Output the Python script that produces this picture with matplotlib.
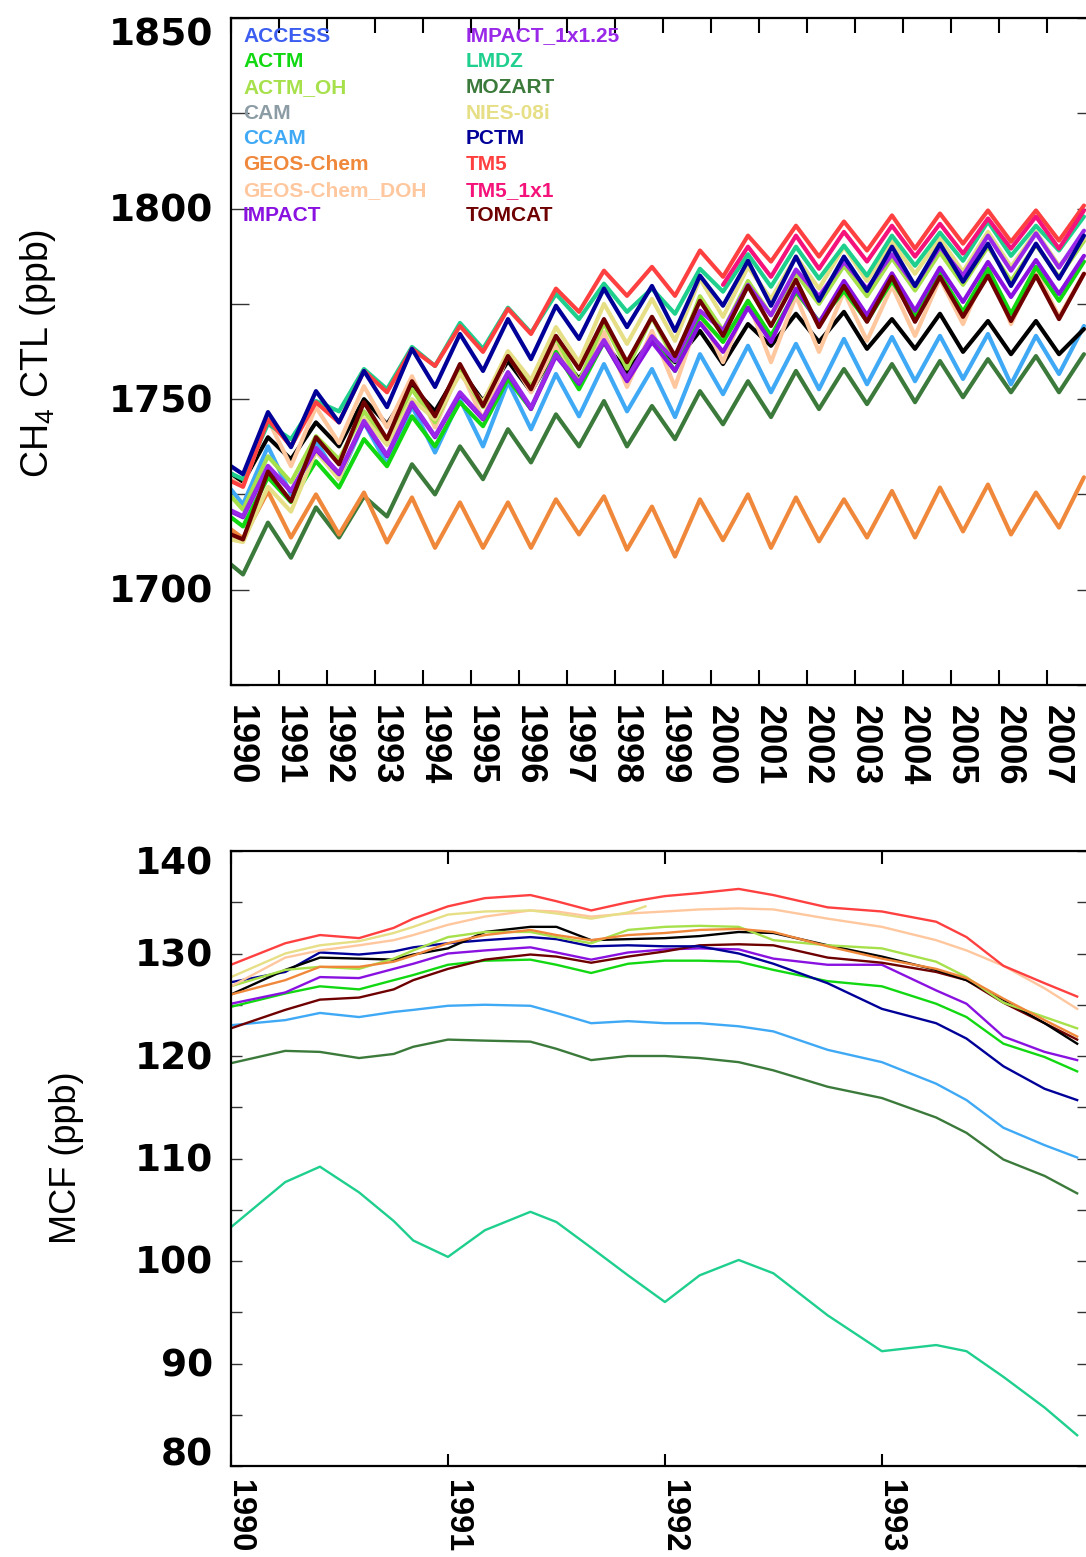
import numpy as np
import matplotlib
matplotlib.use("Agg")
import matplotlib.pyplot as plt
from matplotlib.transforms import offset_copy

plt.rcParams['mathtext.fontset'] = 'custom'
plt.rcParams['mathtext.rm'] = 'Liberation Sans'
plt.rcParams['mathtext.it'] = 'Liberation Sans:italic'

# ---------------- legend ----------------
legend_col1 = ['ACCESS', 'ACTM', 'ACTM_OH', 'CAM', 'CCAM', 'GEOS-Chem', 'GEOS-Chem_DOH', 'IMPACT']
legend_col2 = ['IMPACT_1x1.25', 'LMDZ', 'MOZART', 'NIES-08i', 'PCTM', 'TM5', 'TM5_1x1', 'TOMCAT']
model_colors = {
    'ACCESS': '#3c5ef0', 'ACTM': '#12d812', 'ACTM_OH': '#a6e04a', 'CAM': '#8c9ca4',
    'CCAM': '#3fa9f5', 'GEOS-Chem': '#f0883c', 'GEOS-Chem_DOH': '#ffc79e', 'IMPACT': '#8a12e0',
    'IMPACT_1x1.25': '#9a28e8', 'LMDZ': '#1ecf8e', 'MOZART': '#3b7a3b', 'NIES-08i': '#e6df86',
    'PCTM': '#000099', 'TM5': '#ff4040', 'TM5_1x1': '#f5127a', 'TOMCAT': '#6e0000',
    'black': '#000000',
}

# ---------------- CH4 CTL (ppb): start value, seasonal troughs (lo) and peaks (hi) per year ----------------
ch4_years = list(range(1990, 2008))
ch4_xticks = list(range(1990, 2009))

mozart_ch4_start = 1706.6
mozart_ch4_lo = [1704.0, 1708.4, 1713.7, 1719.2, 1725.0, 1729.0, 1733.4, 1737.6, 1737.6, 1739.5, 1743.4, 1745.3, 1747.4, 1748.7, 1749.2, 1750.5, 1751.8, 1751.8]
mozart_ch4_hi = [1717.6, 1721.6, 1724.5, 1732.9, 1737.6, 1742.1, 1746.0, 1749.5, 1748.2, 1752.1, 1754.7, 1757.4, 1757.9, 1759.2, 1760.0, 1760.5, 1761.3, 1761.8]

geos_ch4_start = 1715.8
geos_ch4_lo = [1713.5, 1713.7, 1714.5, 1712.4, 1711.0, 1711.0, 1711.0, 1714.5, 1710.5, 1708.7, 1713.0, 1711.0, 1712.7, 1713.7, 1713.7, 1715.3, 1714.5, 1716.3]
geos_ch4_hi = [1725.8, 1725.0, 1725.5, 1724.2, 1722.9, 1722.9, 1723.7, 1724.5, 1721.8, 1723.7, 1725.0, 1724.2, 1723.7, 1725.9, 1726.8, 1727.6, 1725.5, 1729.5]

ccam_ch4_start = 1726.3
ccam_ch4_lo = [1722.4, 1725.0, 1729.0, 1732.9, 1736.0, 1737.6, 1742.1, 1745.5, 1746.8, 1745.3, 1751.3, 1751.8, 1752.6, 1753.9, 1754.7, 1755.3, 1753.9, 1756.6]
ccam_ch4_hi = [1737.6, 1739.0, 1743.9, 1748.2, 1750.0, 1754.5, 1756.6, 1759.2, 1757.9, 1761.8, 1764.0, 1764.5, 1765.8, 1766.3, 1766.6, 1767.1, 1766.6, 1769.2]

black_ch4_start = 1730.5
black_ch4_lo = [1728.2, 1734.2, 1737.6, 1743.4, 1746.8, 1749.5, 1752.0, 1755.3, 1757.1, 1759.7, 1759.2, 1764.0, 1765.0, 1763.2, 1763.2, 1762.4, 1761.8, 1761.8]
black_ch4_hi = [1740.0, 1743.9, 1750.0, 1753.4, 1757.9, 1760.0, 1763.0, 1765.0, 1765.8, 1767.9, 1769.7, 1772.4, 1772.9, 1771.0, 1772.4, 1770.5, 1770.5, 1768.4]

doh_ch4_start = 1729.0
doh_ch4_lo = [1727.1, 1732.4, 1738.5, 1742.6, 1742.6, 1744.7, 1751.8, 1753.9, 1753.2, 1753.2, 1759.7, 1759.7, 1762.4, 1765.3, 1766.6, 1769.7, 1769.7, 1771.6]
doh_ch4_hi = [1744.7, 1747.9, 1753.4, 1756.0, 1757.9, 1761.8, 1764.0, 1767.6, 1767.9, 1772.4, 1775.8, 1777.1, 1778.2, 1779.7, 1781.6, 1785.0, 1783.7, 1782.9]

tomcat_ch4_start = 1714.5
tomcat_ch4_lo = [1713.2, 1723.2, 1732.9, 1739.5, 1745.5, 1748.2, 1752.6, 1757.9, 1759.7, 1761.3, 1766.6, 1769.2, 1768.9, 1770.3, 1770.3, 1771.6, 1770.5, 1771.0]
tomcat_ch4_hi = [1731.0, 1740.0, 1749.2, 1754.7, 1759.2, 1761.3, 1766.6, 1771.0, 1771.6, 1775.8, 1779.7, 1781.3, 1779.7, 1782.1, 1782.1, 1782.4, 1782.4, 1782.9]

actm_ch4_start = 1719.0
actm_ch4_lo = [1716.6, 1723.0, 1726.8, 1732.4, 1737.6, 1742.9, 1747.4, 1752.6, 1755.0, 1757.4, 1765.0, 1766.6, 1770.3, 1770.5, 1771.8, 1772.9, 1772.4, 1775.8]
actm_ch4_hi = [1729.5, 1733.7, 1739.5, 1745.5, 1749.2, 1755.3, 1762.4, 1765.0, 1766.0, 1771.8, 1775.8, 1778.2, 1778.4, 1781.0, 1782.9, 1784.2, 1784.7, 1786.1]

actmoh_ch4_start = 1724.5
actmoh_ch4_lo = [1721.0, 1728.2, 1734.2, 1739.0, 1743.9, 1747.9, 1754.0, 1754.5, 1758.0, 1760.0, 1768.0, 1772.0, 1775.0, 1777.0, 1778.5, 1780.0, 1781.0, 1782.0]
actmoh_ch4_hi = [1735.0, 1740.3, 1746.8, 1752.6, 1757.4, 1761.8, 1766.0, 1770.0, 1771.5, 1777.0, 1781.0, 1783.0, 1785.0, 1787.0, 1788.5, 1790.0, 1790.5, 1791.5]

nies_ch4_start = 1713.2
nies_ch4_lo = [1712.5, 1720.5, 1729.0, 1738.0, 1744.7, 1749.2, 1755.0, 1759.7, 1764.5, 1765.3, 1771.6, 1776.3, 1779.0, 1781.0, 1782.9, 1783.4, 1784.7, 1785.0]
nies_ch4_hi = [1727.0, 1736.3, 1745.0, 1750.0, 1756.6, 1762.6, 1768.9, 1775.0, 1776.3, 1781.6, 1784.7, 1787.4, 1790.0, 1791.3, 1792.1, 1793.9, 1793.9, 1792.1]

impact_ch4_start = 1720.5
impact_ch4_lo = [1719.0, 1725.8, 1730.3, 1735.0, 1740.0, 1744.7, 1747.4, 1754.0, 1754.7, 1757.4, 1762.4, 1765.0, 1770.0, 1772.0, 1773.2, 1775.5, 1776.8, 1777.6]
impact_ch4_hi = [1732.1, 1736.8, 1743.9, 1748.7, 1751.3, 1756.6, 1761.3, 1765.0, 1765.0, 1770.0, 1774.0, 1779.0, 1781.0, 1783.0, 1784.5, 1786.0, 1786.5, 1787.6]

impact125_ch4_start = 1720.8
impact125_ch4_lo = [1719.3, 1726.0, 1730.6, 1735.3, 1740.3, 1745.0, 1747.8, 1754.4, 1755.5, 1760.0, 1768.0, 1772.0, 1777.0, 1779.0, 1779.7, 1782.4, 1783.7, 1784.5]
impact125_ch4_hi = [1732.5, 1737.2, 1744.3, 1749.1, 1751.8, 1757.1, 1761.8, 1765.5, 1766.5, 1773.2, 1780.0, 1784.0, 1786.0, 1788.0, 1790.0, 1792.9, 1793.5, 1794.2]

pctm_ch4_start = 1732.4
pctm_ch4_lo = [1730.3, 1737.4, 1743.9, 1747.9, 1753.2, 1757.4, 1760.5, 1765.8, 1768.9, 1767.9, 1774.5, 1774.5, 1775.8, 1778.4, 1779.7, 1780.8, 1779.7, 1781.6]
pctm_ch4_hi = [1746.6, 1752.1, 1757.4, 1763.2, 1767.1, 1771.0, 1774.5, 1779.0, 1779.7, 1782.4, 1786.3, 1787.4, 1787.4, 1790.0, 1790.8, 1790.8, 1790.8, 1792.9]

lmdz_ch4_start = 1730.5
lmdz_ch4_lo = [1729.0, 1739.5, 1746.8, 1752.6, 1758.7, 1763.2, 1767.4, 1771.0, 1772.9, 1772.4, 1778.2, 1779.5, 1781.6, 1782.4, 1785.0, 1786.3, 1787.6, 1789.0]
lmdz_ch4_hi = [1743.5, 1749.5, 1757.9, 1763.7, 1770.0, 1774.0, 1777.6, 1780.3, 1779.0, 1784.2, 1788.0, 1790.0, 1790.3, 1792.9, 1793.7, 1796.6, 1795.5, 1797.9]

tm5_ch4_start = 1728.5
tm5_ch4_lo = [1727.0, 1737.6, 1743.9, 1751.8, 1758.7, 1762.4, 1767.1, 1772.9, 1777.1, 1777.1, 1782.1, 1786.1, 1787.4, 1789.0, 1789.5, 1790.8, 1791.3, 1791.6]
tm5_ch4_hi = [1744.7, 1749.2, 1757.4, 1763.2, 1769.2, 1773.7, 1779.0, 1783.7, 1784.7, 1789.0, 1792.9, 1795.5, 1796.6, 1798.2, 1798.7, 1799.5, 1799.5, 1800.8]

nan = float('nan')
tm51x1_ch4_start = nan
tm51x1_ch4_lo = [nan] * 10 + [1780.0, 1782.1, 1784.2, 1786.1, 1787.4, 1788.2, 1789.5, 1789.5]
tm51x1_ch4_hi = [nan] * 10 + [1790.0, 1792.9, 1793.9, 1795.5, 1796.0, 1797.4, 1797.9, 1799.5]

# ---------------- MCF (ppb) ----------------
mcf_xticks = [1990, 1991, 1992, 1993]
mcf_t = [1990.0, 1990.25, 1990.41, 1990.59, 1990.75, 1990.84, 1991.0, 1991.17, 1991.38, 1991.5, 1991.66,
         1991.83, 1992.0, 1992.16, 1992.34, 1992.5, 1992.75, 1993.0, 1993.25, 1993.39, 1993.56, 1993.75, 1993.9]
tm5_mcf = [128.9, 131.0, 131.8, 131.5, 132.5, 133.4, 134.6, 135.4, 135.7, 135.1, 134.2, 135.0, 135.6, 135.9, 136.3, 135.7, 134.5, 134.1, 133.1, 131.6, 128.8, 127.1, 125.8]
doh_mcf = [126.8, 129.6, 130.3, 130.8, 131.3, 131.8, 132.8, 133.6, 134.2, 134.1, 133.6, 133.9, 134.1, 134.3, 134.4, 134.3, 133.4, 132.6, 131.3, 130.3, 128.8, 126.6, 124.6]
black_mcf = [126.0, 128.4, 129.6, 129.5, 129.4, 129.9, 130.5, 132.1, 132.6, 132.6, 131.3, 131.4, 131.5, 131.7, 132.1, 132.0, 130.8, 129.7, 128.4, 127.4, 125.5, 123.2, 121.2]
geos_mcf = [126.0, 127.4, 128.7, 128.7, 129.2, 129.8, 131.0, 131.8, 132.3, 131.8, 131.3, 131.8, 132.0, 132.3, 132.4, 132.1, 130.7, 129.5, 128.5, 127.6, 125.6, 123.5, 121.9]
actmoh_mcf = [126.8, 128.4, 128.7, 128.5, 129.5, 130.3, 131.6, 132.1, 132.1, 131.6, 131.0, 132.3, 132.6, 132.7, 132.6, 131.3, 130.8, 130.5, 129.2, 127.7, 125.2, 123.8, 122.7]
pctm_mcf = [127.2, 128.2, 130.1, 129.9, 130.2, 130.6, 131.0, 131.3, 131.6, 131.4, 130.7, 130.8, 130.7, 130.7, 130.0, 129.0, 127.1, 124.6, 123.2, 121.7, 119.0, 116.8, 115.7]
impact_mcf = [125.1, 126.2, 127.7, 127.6, 128.5, 129.0, 130.0, 130.3, 130.6, 130.1, 129.4, 130.1, 130.4, 130.5, 130.4, 129.5, 128.9, 128.9, 126.4, 125.1, 121.9, 120.4, 119.6]
actm_mcf = [124.8, 126.1, 126.8, 126.5, 127.4, 127.9, 128.9, 129.3, 129.4, 128.9, 128.1, 129.0, 129.3, 129.3, 129.2, 128.4, 127.3, 126.8, 125.1, 123.8, 121.2, 119.9, 118.5]
tomcat_mcf = [122.7, 124.5, 125.5, 125.7, 126.5, 127.4, 128.5, 129.4, 129.9, 129.7, 129.1, 129.7, 130.2, 130.8, 130.9, 130.8, 129.6, 129.1, 128.2, 127.4, 125.2, 123.2, 121.6]
ccam_mcf = [123.0, 123.5, 124.2, 123.8, 124.3, 124.5, 124.9, 125.0, 124.9, 124.2, 123.2, 123.4, 123.2, 123.2, 122.9, 122.4, 120.6, 119.4, 117.3, 115.7, 113.0, 111.3, 110.1]
mozart_mcf = [119.3, 120.5, 120.4, 119.8, 120.2, 120.9, 121.6, 121.5, 121.4, 120.7, 119.6, 120.0, 120.0, 119.8, 119.4, 118.6, 117.0, 115.9, 114.0, 112.5, 109.9, 108.3, 106.6]
lmdz_mcf = [103.3, 107.7, 109.2, 106.7, 103.9, 102.0, 100.4, 103.0, 104.8, 103.8, 101.3, 98.6, 96.0, 98.6, 100.1, 98.8, 94.7, 91.2, 91.8, 91.2, 88.7, 85.7, 83.0]
nies_mcf_t = [1990.0, 1990.25, 1990.41, 1990.59, 1990.75, 1990.84, 1991.0, 1991.17, 1991.38, 1991.5, 1991.66, 1991.83, 1991.91]
nies_mcf = [127.7, 130.0, 130.8, 131.2, 132.0, 132.6, 133.8, 134.1, 134.2, 133.9, 133.4, 134.0, 134.6]

# ---------------- figure ----------------
W, H, DPI = 1086, 1557, 100
fig = plt.figure(figsize=(W / DPI, H / DPI), dpi=DPI)


def rect(left, top, right, bottom):
    return [left / W, 1 - bottom / H, (right - left) / W, (bottom - top) / H]


def off(trans, dx, dy):
    return offset_copy(trans, fig=fig, x=dx / DPI, y=dy / DPI, units='inches')


def ch4_curve(start, lo, hi):
    t, v = [1990.0], [start]
    for y, a, b in zip(ch4_years, lo, hi):
        t += [y + 0.25, y + 0.77]
        v += [a, b]
    return np.array(t), np.array(v, dtype=float)


def style_axes(ax, xlen, ylen):
    for s in ax.spines.values():
        s.set_linewidth(1.6)
        s.set_color('black')
    ax.tick_params(axis='x', which='both', direction='in', top=True, bottom=True,
                   length=xlen, width=1.5, labelbottom=False, labeltop=False)
    ax.tick_params(axis='y', which='both', direction='in', left=True, right=True,
                   length=ylen, width=1.0, color='#333333', labelleft=False, labelright=False)


# ---- top panel ----
ax1 = fig.add_axes(rect(231, 18, 1095, 685))
ax1.set_xlim(1990, 2008)
ax1.set_ylim(1675, 1850)
top_series = [
    ('MOZART', mozart_ch4_start, mozart_ch4_lo, mozart_ch4_hi),
    ('GEOS-Chem', geos_ch4_start, geos_ch4_lo, geos_ch4_hi),
    ('CCAM', ccam_ch4_start, ccam_ch4_lo, ccam_ch4_hi),
    ('black', black_ch4_start, black_ch4_lo, black_ch4_hi),
    ('GEOS-Chem_DOH', doh_ch4_start, doh_ch4_lo, doh_ch4_hi),
    ('ACTM', actm_ch4_start, actm_ch4_lo, actm_ch4_hi),
    ('ACTM_OH', actmoh_ch4_start, actmoh_ch4_lo, actmoh_ch4_hi),
    ('NIES-08i', nies_ch4_start, nies_ch4_lo, nies_ch4_hi),
    ('IMPACT', impact_ch4_start, impact_ch4_lo, impact_ch4_hi),
    ('IMPACT_1x1.25', impact125_ch4_start, impact125_ch4_lo, impact125_ch4_hi),
    ('TOMCAT', tomcat_ch4_start, tomcat_ch4_lo, tomcat_ch4_hi),
    ('LMDZ', lmdz_ch4_start, lmdz_ch4_lo, lmdz_ch4_hi),
    ('TM5', tm5_ch4_start, tm5_ch4_lo, tm5_ch4_hi),
    ('TM5_1x1', tm51x1_ch4_start, tm51x1_ch4_lo, tm51x1_ch4_hi),
    ('PCTM', pctm_ch4_start, pctm_ch4_lo, pctm_ch4_hi),
]
for name, s0, lo, hi in top_series:
    t, v = ch4_curve(s0, lo, hi)
    ax1.plot(t, v, color=model_colors[name], lw=3.0, solid_joinstyle='round', solid_capstyle='round')

ax1.set_xticks(ch4_xticks)
ax1.set_yticks(np.arange(1675, 1851, 25))
style_axes(ax1, xlen=11, ylen=13)

ytick_font = dict(family='DejaVu Sans', weight='bold', size=27)

for v in [1700, 1750, 1800, 1850]:
    dy = -28 if v == 1850 else -13
    ax1.text(0, v, str(v), transform=off(ax1.get_yaxis_transform(), -18, dy),
             ha='right', va='baseline', **ytick_font)
for yr in ch4_xticks[:-1]:
    ax1.text(yr, 0, str(yr), transform=off(ax1.get_xaxis_transform(), 0, -20),
             rotation=-90, rotation_mode='anchor', ha='left', va='baseline',
             family='Liberation Sans', weight='bold', size=26)

fig.text(38 / W, 1 - 353 / H, r'CH$_4$ CTL (ppb)', rotation=90, ha='center', va='center',
         family='Liberation Sans', size=27)

# legend as coloured text
for i, name in enumerate(legend_col1):
    fig.text(243 / W, 1 - (36 + 25.7 * i) / H, name, color=model_colors[name], ha='left', va='center',
             family='Liberation Sans', weight='bold', size=15)
for i, name in enumerate(legend_col2):
    fig.text(466 / W, 1 - (36 + 25.7 * i) / H, name, color=model_colors[name], ha='left', va='center',
             family='Liberation Sans', weight='bold', size=15)

# ---- bottom panel ----
ax2 = fig.add_axes(rect(231, 851, 1088, 1466))
ax2.set_xlim(1990, 1993.95)
ax2.set_ylim(80, 140)
bottom_series = [
    ('MOZART', mcf_t, mozart_mcf),
    ('CCAM', mcf_t, ccam_mcf),
    ('LMDZ', mcf_t, lmdz_mcf),
    ('ACTM', mcf_t, actm_mcf),
    ('IMPACT', mcf_t, impact_mcf),
    ('TOMCAT', mcf_t, tomcat_mcf),
    ('PCTM', mcf_t, pctm_mcf),
    ('black', mcf_t, black_mcf),
    ('ACTM_OH', mcf_t, actmoh_mcf),
    ('GEOS-Chem', mcf_t, geos_mcf),
    ('GEOS-Chem_DOH', mcf_t, doh_mcf),
    ('NIES-08i', nies_mcf_t, nies_mcf),
    ('TM5', mcf_t, tm5_mcf),
]
for name, t, v in bottom_series:
    ax2.plot(t, v, color=model_colors[name], lw=1.7, solid_joinstyle='round')

ax2.set_xticks(mcf_xticks)
ax2.set_yticks(np.arange(80, 141, 5))
style_axes(ax2, xlen=9, ylen=8)

for v in range(80, 141, 10):
    dy = -24 if v == 140 else (0 if v == 80 else -13)
    ax2.text(0, v, str(v), transform=off(ax2.get_yaxis_transform(), -18, dy),
             ha='right', va='baseline', **ytick_font)
for yr in mcf_xticks:
    ax2.text(yr, 0, str(yr), transform=off(ax2.get_xaxis_transform(), 0, -14),
             rotation=-90, rotation_mode='anchor', ha='left', va='baseline',
             family='Liberation Sans', weight='bold', size=23.5)

fig.text(67 / W, 1 - 1158 / H, 'MCF (ppb)', rotation=90, ha='center', va='center',
         family='Liberation Sans', size=26)

fig.savefig('out.png', dpi=DPI)
